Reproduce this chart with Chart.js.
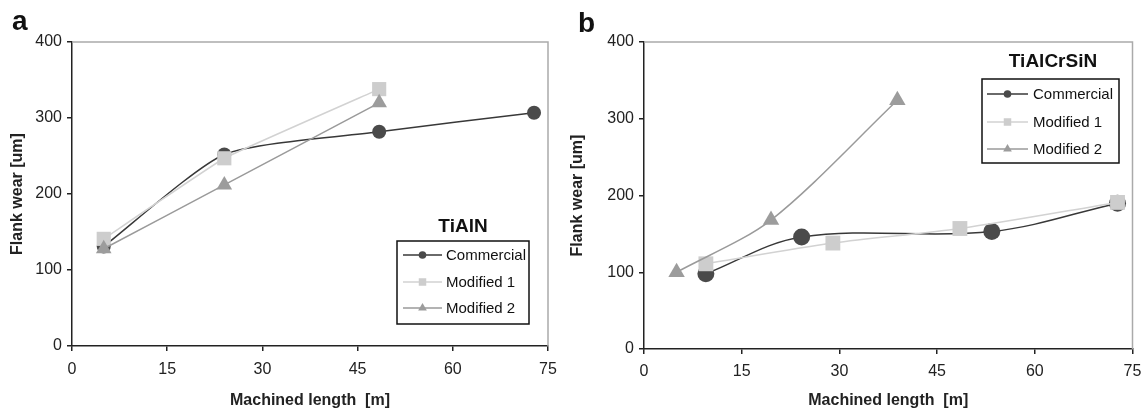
<!DOCTYPE html>
<html>
<head>
<meta charset="utf-8">
<script src="https://cdn.jsdelivr.net/npm/chart.js@4/dist/chart.umd.min.js"></script>
<style>
  html, body { margin: 0; padding: 0; background: #fff; }
  #wrap { position: relative; width: 1143px; height: 413px; }
  canvas { position: absolute; top: 0; }
</style>
</head>
<body>
<div id="wrap">
  <canvas id="chart-a" width="560" height="413" style="left:0;width:560px;height:413px"></canvas>
  <canvas id="chart-b" width="583" height="413" style="left:560px;width:583px;height:413px"></canvas>
</div>
<script>
const seriesNames = ['Commercial', 'Modified 1', 'Modified 2'];
const xTicks = [0, 15, 30, 45, 60, 75];
const yTicks = [0, 100, 200, 300, 400];

// panel a - TiAlN
const aCommercialLen = [5, 24, 48.4, 72.8];
const aCommercialWear = [131, 252, 282, 307];
const aMod1Len = [5, 24, 48.4];
const aMod1Wear = [141, 247, 338];
const aMod2Len = [5, 24, 48.4];
const aMod2Wear = [128, 212, 320];

// panel b - TiAlCrSiN
const bCommercialLen = [9.5, 24.2, 53.4, 72.7];
const bCommercialWear = [98, 146, 153, 190];
const bMod1Len = [9.5, 29, 48.5, 72.7];
const bMod1Wear = [111, 138, 157, 191];
const bMod2Len = [5, 19.5, 38.9];
const bMod2Wear = [100, 168, 324];

const FONT = '"Liberation Sans", Arial, Helvetica, sans-serif';
Chart.defaults.font.family = FONT;
Chart.defaults.color = '#222';

function pts(xs, ys) {
  return xs.map((x, i) => ({x: x, y: ys[i]}));
}

const styles = [
  {line: '#383838', fill: '#4a4a4a', shape: 'circle', legendR: 3.8},
  {line: '#d2d2d2', fill: '#cdcdcd', shape: 'rect', legendR: 5},
  {line: '#9a9a9a', fill: '#9c9c9c', shape: 'triangle', legendR: 5}
];

function makeDatasets(list, radii, tensions) {
  return list.map((d, i) => ({
    label: seriesNames[i],
    data: pts(d[0], d[1]),
    borderColor: styles[i].line,
    backgroundColor: styles[i].fill,
    pointBackgroundColor: styles[i].fill,
    pointBorderColor: styles[i].fill,
    pointBorderWidth: 0,
    pointStyle: styles[i].shape,
    pointRadius: radii[i],
    borderWidth: 1.5,
    tension: tensions[i],
    order: 3 - i,
    clip: false
  }));
}

function makeScales(yWidth, xHeight, xPad) {
  return {
    x: {
      type: 'linear',
      min: 0, max: 75,
      afterBuildTicks: (s) => { s.ticks = xTicks.map(v => ({value: v})); },
      afterFit: (s) => { s.height = xHeight; s.paddingLeft = 0; s.paddingRight = 0; },
      ticks: { font: {size: 16}, padding: xPad, color: '#222' },
      grid: { drawOnChartArea: false, tickLength: 5, color: '#222', lineWidth: 1.5 },
      border: { display: true, color: '#222', width: 1.5 },
      title: { display: true, text: 'Machined length  [m]', font: {size: 16, weight: 'bold'}, color: '#222', padding: {top: 0, bottom: 3} }
    },
    y: {
      type: 'linear',
      min: 0, max: 400,
      afterBuildTicks: (s) => { s.ticks = yTicks.map(v => ({value: v})); },
      afterFit: (s) => { s.width = yWidth; s.paddingTop = 0; s.paddingBottom = 0; },
      ticks: { font: {size: 16}, padding: 5, color: '#222' },
      grid: { drawOnChartArea: false, tickLength: 5, color: '#222', lineWidth: 1.5 },
      border: { display: true, color: '#222', width: 1.5 },
      title: { display: true, text: 'Flank wear [um]', font: {size: 16, weight: 'bold'}, color: '#222', padding: {top: 8, bottom: 0} }
    }
  };
}

function drawMarker(ctx, shape, x, y, r) {
  ctx.beginPath();
  if (shape === 'circle') {
    ctx.arc(x, y, r, 0, Math.PI * 2);
  } else if (shape === 'rect') {
    ctx.rect(x - r * 0.75, y - r * 0.75, r * 1.5, r * 1.5);
  } else {
    ctx.moveTo(x, y - r);
    ctx.lineTo(x + r * 0.87, y + r * 0.5);
    ctx.lineTo(x - r * 0.87, y + r * 0.5);
    ctx.closePath();
  }
  ctx.fill();
}

// frame, panel letter and boxed legend
const panelDecor = {
  id: 'panelDecor',
  beforeDatasetsDraw(chart) {
    const ctx = chart.ctx, ca = chart.chartArea;
    ctx.save();
    ctx.strokeStyle = '#aaaaaa';
    ctx.lineWidth = 1.5;
    ctx.beginPath();
    ctx.moveTo(ca.left, ca.top);
    ctx.lineTo(ca.right, ca.top);
    ctx.lineTo(ca.right, ca.bottom);
    ctx.stroke();
    ctx.restore();
  },
  afterDraw(chart, args, o) {
    const ctx = chart.ctx;
    ctx.save();
    ctx.fillStyle = '#111';
    ctx.textBaseline = 'alphabetic';
    ctx.textAlign = 'left';
    ctx.font = 'bold 28px ' + FONT;
    ctx.fillText(o.letter, o.letterX, o.letterY);

    ctx.font = 'bold 19px ' + FONT;
    ctx.textAlign = 'center';
    ctx.textBaseline = 'middle';
    ctx.fillText(o.title, o.titleX, o.titleY);

    ctx.strokeStyle = '#111';
    ctx.lineWidth = 1.5;
    ctx.strokeRect(o.box[0], o.box[1], o.box[2] - o.box[0], o.box[3] - o.box[1]);

    ctx.font = '15px ' + FONT;
    ctx.textAlign = 'left';
    chart.data.datasets.forEach((ds, i) => {
      const y = o.rows[i];
      ctx.strokeStyle = styles[i].line;
      ctx.lineWidth = 1.5;
      ctx.beginPath();
      ctx.moveTo(o.lineX[0], y);
      ctx.lineTo(o.lineX[1], y);
      ctx.stroke();
      ctx.fillStyle = styles[i].fill;
      drawMarker(ctx, styles[i].shape, (o.lineX[0] + o.lineX[1]) / 2, y, styles[i].legendR);
      ctx.fillStyle = '#111';
      ctx.fillText(ds.label, o.textX, y + 1);
    });
    ctx.restore();
  }
};

function makeChart(id, datasets, yWidth, xHeight, padRight, xPad, decor) {
  return new Chart(document.getElementById(id), {
    type: 'line',
    data: { datasets: datasets },
    options: {
      responsive: false,
      animation: false,
      layout: { padding: {top: 42, right: padRight, left: 0, bottom: 0} },
      plugins: {
        legend: { display: false },
        tooltip: { enabled: false },
        panelDecor: decor
      },
      scales: makeScales(yWidth, xHeight, xPad)
    },
    plugins: [panelDecor]
  });
}

makeChart('chart-a',
  makeDatasets([[aCommercialLen, aCommercialWear], [aMod1Len, aMod1Wear], [aMod2Len, aMod2Wear]],
    [7, 10, 9], [0.2, 0.08, 0.05]),
  72, 67, 12, 9,
  { letter: 'a', letterX: 12, letterY: 30, title: 'TiAlN', titleX: 463, titleY: 227,
    box: [397, 241, 529, 324], rows: [255, 282, 308], lineX: [403, 442], textX: 446 });

makeChart('chart-b',
  makeDatasets([[bCommercialLen, bCommercialWear], [bMod1Len, bMod1Wear], [bMod2Len, bMod2Wear]],
    [8.5, 10.5, 9.5], [0.35, 0.3, 0.3]),
  84, 64, 9, 8,
  { letter: 'b', letterX: 18, letterY: 32, title: 'TiAlCrSiN', titleX: 493, titleY: 62,
    box: [422, 79, 559, 163], rows: [94, 122, 149], lineX: [427, 468], textX: 473 });
</script>
</body>
</html>
